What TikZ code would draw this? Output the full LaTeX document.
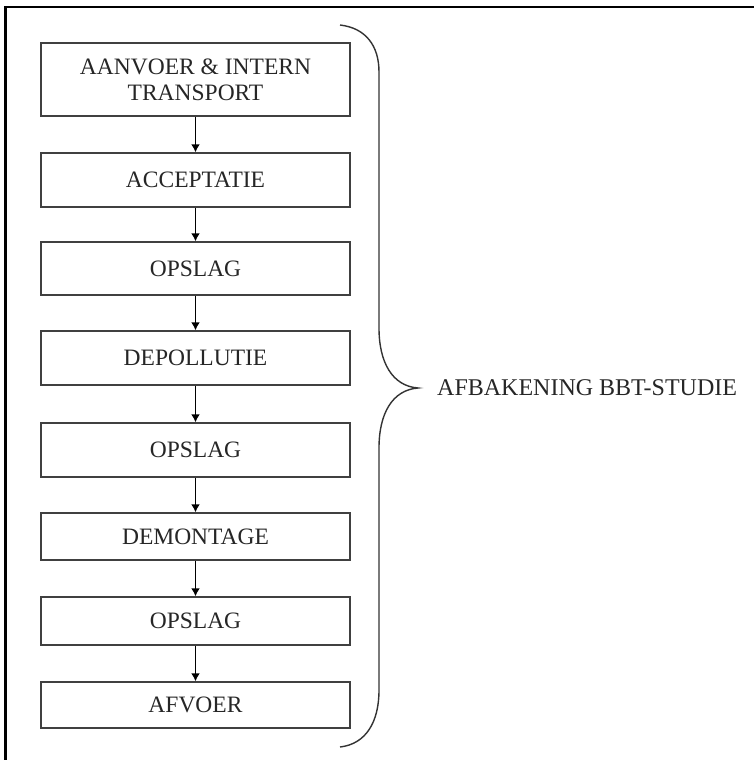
\documentclass[tikz,border=0pt]{standalone}
\usepackage{fontspec}
\setmainfont{Liberation Serif}
\usetikzlibrary{arrows.meta}
\begin{document}
\begin{tikzpicture}[x=1pt,y=-1pt,
  stepbox/.style={draw=black!75, line width=1.4pt, minimum width=309pt, inner sep=0pt,
    font=\fontsize{23.5}{26}\selectfont, align=center, text=black!85},
  flow/.style={draw=black, line width=1.6pt, -{Latex[length=8pt,width=9pt]}},
  bracepath/.style={draw=black!80, line width=1.4pt},
  frame/.style={draw=black, line width=2.6pt}]
\useasboundingbox (0,0) rectangle (754,760);
\fill[white] (0,0) rectangle (754,760);
\coordinate (ftl) at (5.5,7);
\coordinate (ftr) at (754,7);
\coordinate (fbl) at (5.5,760);
\draw[frame] (ftr) -- (ftl) -- (fbl);

\node[stepbox, minimum height=73pt] (b1) at (195.5,79.5) {AANVOER \& INTERN\\TRANSPORT};
\node[stepbox, minimum height=54pt] (b2) at (195.5,180) {ACCEPTATIE};
\node[stepbox, minimum height=53pt] (b3) at (195.5,268.5) {OPSLAG};
\node[stepbox, minimum height=54pt] (b4) at (195.5,358) {DEPOLLUTIE};
\node[stepbox, minimum height=54pt] (b5) at (195.5,450) {OPSLAG};
\node[stepbox, minimum height=47pt] (b6) at (195.5,536.5) {DEMONTAGE};
\node[stepbox, minimum height=48pt] (b7) at (195.5,621) {OPSLAG};
\node[stepbox, minimum height=46pt] (b8) at (195.5,705) {AFVOER};

\foreach \a/\b in {b1/b2,b2/b3,b3/b4,b4/b5,b5/b6,b6/b7,b7/b8}
  \draw[flow] (\a.south) -- (\b.north);

\node[anchor=west, inner sep=0pt, font=\fontsize{24}{26}\selectfont, text=black!85] (lbl) at (437,388) {AFBAKENING BBT-STUDIE};

\coordinate (btop) at (340,25);
\coordinate (bbot) at (340,747);
\coordinate (btip) at (418,388);
\draw[bracepath] (btop) .. controls (366,28) and (379,46) .. (379,72)
  -- (379,328) .. controls (379,362) and (392,386) .. (btip)
  .. controls (392,390) and (379,414) .. (379,448)
  -- (379,690) .. controls (379,722) and (366,744) .. (bbot);
\end{tikzpicture}
\end{document}
